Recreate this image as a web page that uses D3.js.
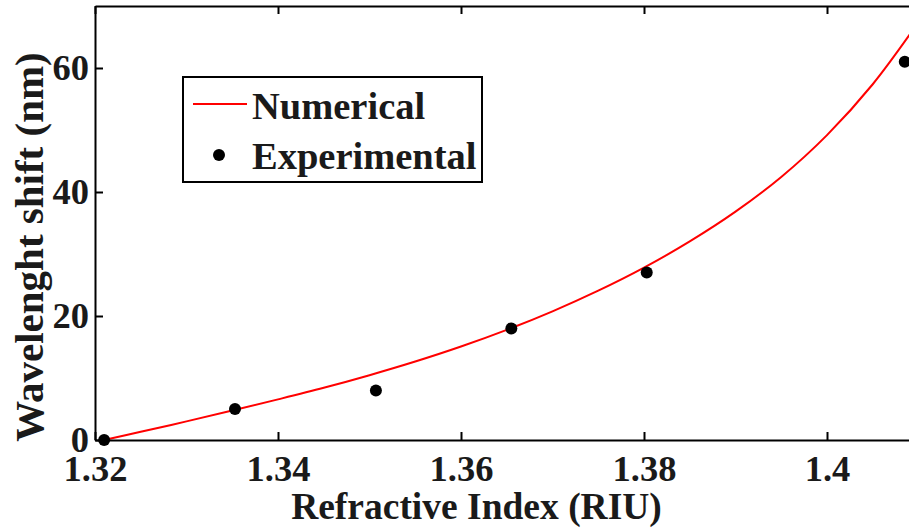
<!DOCTYPE html>
<html>
<head>
<meta charset="utf-8">
<script src="https://cdn.jsdelivr.net/npm/d3@7/dist/d3.min.js"></script>
<style>
  html, body { margin: 0; padding: 0; background: #fff; }
  svg { display: block; }
</style>
</head>
<body>
<script>
// Numerical model: wavelength shift vs refractive index
const numericalRI    = [1.321, 1.325, 1.330, 1.335, 1.340, 1.345, 1.350, 1.355, 1.360, 1.365,
                        1.370, 1.375, 1.380, 1.385, 1.390, 1.395, 1.400, 1.405, 1.410];
const numericalShift = [0, 1.32, 3.0, 4.75, 6.55, 8.42, 10.45, 12.65, 15.07, 17.76,
                        20.75, 24.08, 27.8, 32.03, 36.83, 42.43, 49.18, 57.38, 67.4];

// Experimental measurements
const experimentalRI    = [1.321, 1.3353, 1.3507, 1.3655, 1.3803, 1.4085];
const experimentalShift = [0, 5, 8, 18, 27, 61];

const xTicks = [1.32, 1.34, 1.36, 1.38, 1.40];
const yTicks = [0, 20, 40, 60];
const xTickLabels = ["1.32", "1.34", "1.36", "1.38", "1.4"];

const W = 909, H = 531;
const plotLeft = 95, plotTop = 6, plotBottom = 440, plotRight = 918.5;
const FONT = "'Liberation Serif', 'Times New Roman', serif";
const INK = "#1a1a1a";

const svg = d3.select("body").append("svg").attr("width", W).attr("height", H);

const x = d3.scaleLinear().domain([1.32, 1.41]).range([plotLeft, plotRight]);
const y = d3.scaleLinear().domain([0, 70]).range([plotBottom, plotTop]);

svg.append("defs").append("clipPath").attr("id", "plotClip")
  .append("rect").attr("x", plotLeft).attr("y", plotTop)
  .attr("width", plotRight - plotLeft).attr("height", plotBottom - plotTop);

// numerical curve
const numData = numericalRI.map((v, i) => [v, numericalShift[i]]);
svg.append("path")
  .datum(numData)
  .attr("clip-path", "url(#plotClip)")
  .attr("fill", "none")
  .attr("stroke", "#ff0000")
  .attr("stroke-width", 2)
  .attr("d", d3.line().x(d => x(d[0])).y(d => y(d[1])).curve(d3.curveCatmullRom));

// experimental points
svg.append("g").selectAll("circle")
  .data(experimentalRI.map((v, i) => [v, experimentalShift[i]]))
  .join("circle")
  .attr("cx", d => x(d[0]))
  .attr("cy", d => y(d[1]))
  .attr("r", 6)
  .attr("fill", "#000");

// axes with inward ticks, mirrored on the top/right
const axStyle = g => {
  g.attr("font-family", FONT).attr("font-size", 36.5).attr("font-weight", "bold");
  g.select(".domain").attr("stroke", "#000").attr("stroke-width", 2);
  g.selectAll(".tick line").attr("stroke", "#000").attr("stroke-width", 2);
  g.selectAll(".tick text").attr("fill", INK);
};

svg.append("g")
  .attr("transform", `translate(0,${plotBottom})`)
  .call(d3.axisBottom(x).tickValues(xTicks).tickSizeInner(-8).tickSizeOuter(0)
        .tickFormat((d, i) => xTickLabels[i]))
  .call(axStyle)
  .call(g => g.selectAll(".tick text").attr("y", 0).attr("dy", "41px"));

svg.append("g")
  .attr("transform", `translate(0,${plotTop})`)
  .call(d3.axisTop(x).tickValues(xTicks).tickSizeInner(-8).tickSizeOuter(0).tickFormat(""))
  .call(axStyle);

svg.append("g")
  .attr("transform", `translate(${plotLeft},0)`)
  .call(d3.axisLeft(y).tickValues(yTicks).tickSizeInner(-8).tickSizeOuter(0))
  .call(axStyle)
  .call(g => g.selectAll(".tick text").attr("x", -6).attr("dy", "0.32em"));

svg.append("g")
  .attr("transform", `translate(${plotRight},0)`)
  .call(d3.axisRight(y).tickValues(yTicks).tickSizeInner(-8).tickSizeOuter(0).tickFormat(""))
  .call(axStyle);

// axis titles
svg.append("text")
  .attr("x", 476.5).attr("y", 519)
  .attr("text-anchor", "middle")
  .attr("font-family", FONT).attr("font-size", 37.5).attr("font-weight", "bold").attr("fill", INK)
  .text("Refractive Index (RIU)");

svg.append("text")
  .attr("transform", "translate(43,247) rotate(-90)")
  .attr("text-anchor", "middle")
  .attr("font-family", FONT).attr("font-size", 41).attr("font-weight", "bold").attr("fill", INK)
  .text("Wavelenght shift (nm)");

// legend
const lg = svg.append("g").attr("font-family", FONT).attr("font-size", 38.5)
  .attr("font-weight", "bold").attr("fill", INK);
lg.append("rect")
  .attr("x", 183).attr("y", 77).attr("width", 299).attr("height", 105)
  .attr("fill", "#fff").attr("stroke", "#000").attr("stroke-width", 2);
lg.append("line")
  .attr("x1", 193).attr("x2", 247).attr("y1", 104).attr("y2", 104)
  .attr("stroke", "#ff0000").attr("stroke-width", 2);
lg.append("circle").attr("cx", 219).attr("cy", 155).attr("r", 6).attr("fill", "#000");
lg.append("text").attr("x", 252).attr("y", 119).text("Numerical");
lg.append("text").attr("x", 252).attr("y", 169).text("Experimental");
</script>
</body>
</html>
